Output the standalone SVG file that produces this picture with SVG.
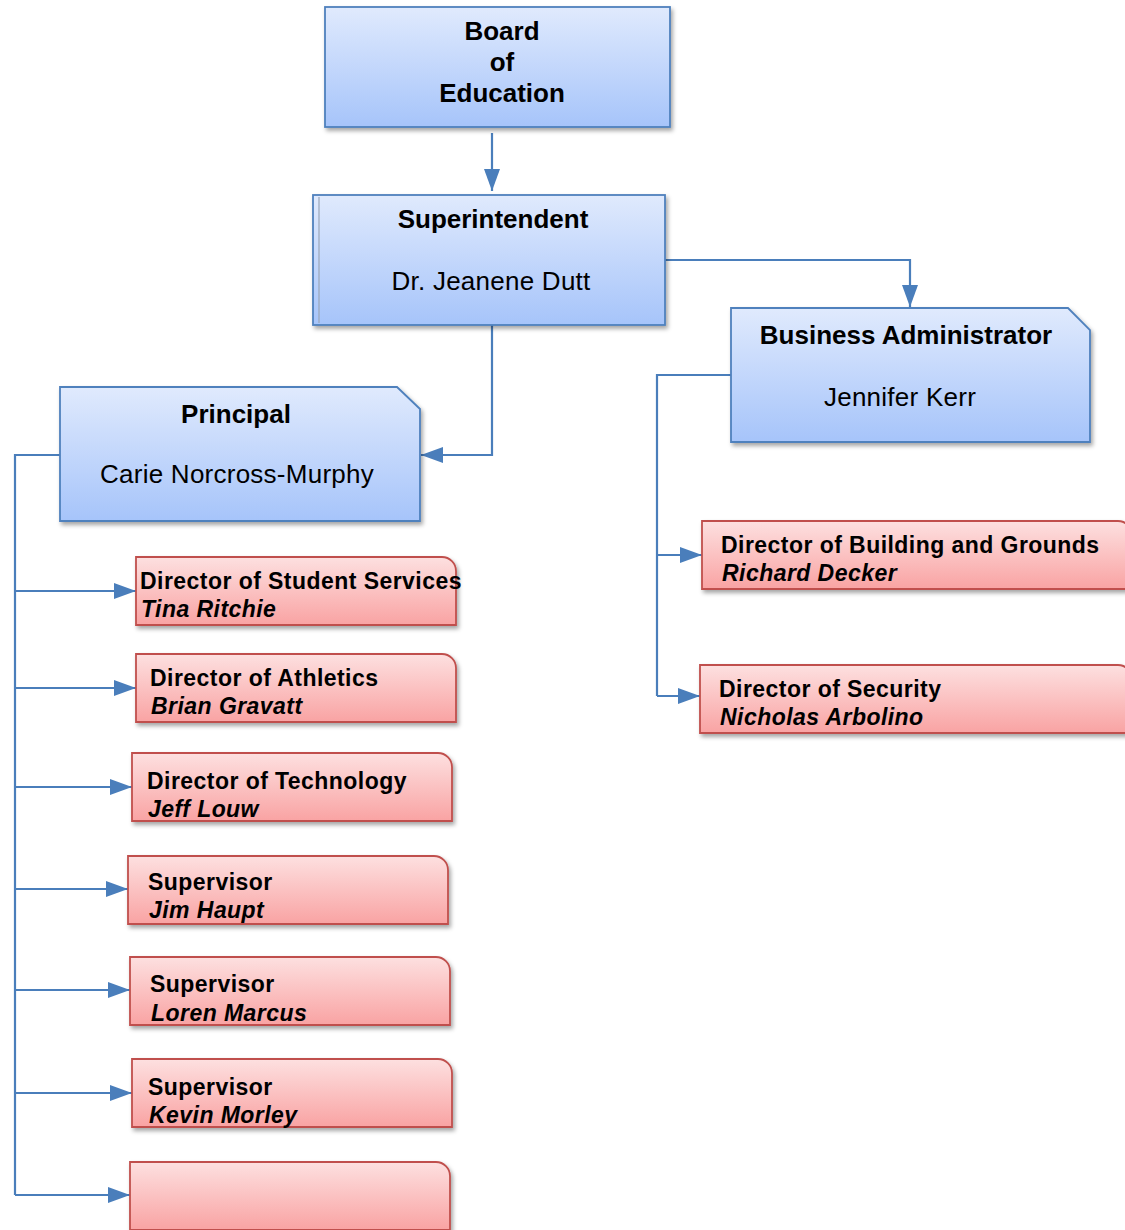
<svg xmlns="http://www.w3.org/2000/svg" width="1125" height="1230" viewBox="0 0 1125 1230">
<defs>
<linearGradient id="gb" x1="0" y1="0" x2="0" y2="1">
<stop offset="0" stop-color="#e0eafd"/>
<stop offset="1" stop-color="#a6c4fa"/>
</linearGradient>
<linearGradient id="gr" x1="0" y1="0" x2="0" y2="1">
<stop offset="0" stop-color="#fde0e0"/>
<stop offset="1" stop-color="#f9a3a3"/>
</linearGradient>
<filter id="sh" x="-10%" y="-10%" width="125%" height="130%">
<feDropShadow dx="2" dy="3" stdDeviation="2" flood-color="#000" flood-opacity="0.35"/>
</filter>
<marker id="ah" markerUnits="userSpaceOnUse" markerWidth="24" markerHeight="16" refX="22" refY="8" orient="auto">
<path d="M0,0 L22,8 L0,16 Z" fill="#4a7ebb"/>
</marker>
</defs>
<style>
.blue{fill:url(#gb);stroke:#4f81bd;stroke-width:1.8;filter:url(#sh)}
.red{fill:url(#gr);stroke:#c0504d;stroke-width:1.8;filter:url(#sh)}
.c{fill:none;stroke:#4a7ebb;stroke-width:2.2}
.ca{fill:none;stroke:#4a7ebb;stroke-width:2.2;marker-end:url(#ah)}
text{font-family:"Liberation Sans",Arial,sans-serif;fill:#000}
.bt{font-size:26px;font-weight:bold;text-anchor:middle}
.bn{font-size:26px;text-anchor:middle;letter-spacing:0.25px}
.rt{font-size:23px;font-weight:bold;letter-spacing:0.45px}
.rn{font-size:23px;font-weight:bold;font-style:italic;letter-spacing:0.45px}
</style>

<g id="connectors">
<path class="ca" d="M492,133 V191"/>
<path class="ca" d="M665,260 H910 V307"/>
<path class="ca" d="M492,325 V455 H421"/>
<path class="c" d="M60,455 H15 V1195"/>
<path class="ca" d="M15,591 H136"/>
<path class="ca" d="M15,688 H136"/>
<path class="ca" d="M15,787 H132"/>
<path class="ca" d="M15,889 H128"/>
<path class="ca" d="M15,990 H130"/>
<path class="ca" d="M15,1093 H132"/>
<path class="ca" d="M15,1195 H130"/>
<path class="c" d="M731,375 H657 V696"/>
<path class="ca" d="M657,555 H702"/>
<path class="ca" d="M657,696 H700"/>
</g>

<g id="board">
<rect class="blue" x="325" y="7" width="345" height="120"/>
<text class="bt" x="502" y="40">Board</text>
<text class="bt" x="502" y="71">of</text>
<text class="bt" x="502" y="102">Education</text>
</g>

<g id="superintendent">
<rect class="blue" x="313" y="195" width="352" height="130"/>
<line x1="319" y1="197" x2="319" y2="323" stroke="#9aa6b8" stroke-width="1.2"/>
<text class="bt" x="493" y="228">Superintendent</text>
<text class="bn" x="491" y="290">Dr. Jeanene Dutt</text>
</g>

<g id="business-administrator">
<path class="blue" d="M731,308 H1068 L1090,330 V442 H731 Z"/>
<text class="bt" x="906" y="344">Business Administrator</text>
<text class="bn" x="900" y="406">Jennifer Kerr</text>
</g>

<g id="principal">
<path class="blue" d="M60,387 H397 L420,409 V521 H60 Z"/>
<text class="bt" x="236" y="423">Principal</text>
<text class="bn" x="237" y="483">Carie Norcross-Murphy</text>
</g>

<g id="student-services">
<path class="red" d="M136,557 H442 A14,14 0 0 1 456,571 V625 H136 Z"/>
<text class="rt" x="140" y="589">Director of Student Services</text>
<text class="rn" x="141" y="617">Tina Ritchie</text>
</g>

<g id="athletics">
<path class="red" d="M136,654 H442 A14,14 0 0 1 456,668 V722 H136 Z"/>
<text class="rt" x="150" y="686">Director of Athletics</text>
<text class="rn" x="151" y="714">Brian Gravatt</text>
</g>

<g id="technology">
<path class="red" d="M132,753 H438 A14,14 0 0 1 452,767 V821 H132 Z"/>
<text class="rt" x="147" y="789">Director of Technology</text>
<text class="rn" x="148" y="817">Jeff Louw</text>
</g>

<g id="supervisor-haupt">
<path class="red" d="M128,856 H434 A14,14 0 0 1 448,870 V924 H128 Z"/>
<text class="rt" x="148" y="890">Supervisor</text>
<text class="rn" x="149" y="918">Jim Haupt</text>
</g>

<g id="supervisor-marcus">
<path class="red" d="M130,957 H436 A14,14 0 0 1 450,971 V1025 H130 Z"/>
<text class="rt" x="150" y="992">Supervisor</text>
<text class="rn" x="151" y="1021">Loren Marcus</text>
</g>

<g id="supervisor-morley">
<path class="red" d="M132,1059 H438 A14,14 0 0 1 452,1073 V1127 H132 Z"/>
<text class="rt" x="148" y="1095">Supervisor</text>
<text class="rn" x="149" y="1123">Kevin Morley</text>
</g>

<g id="empty">
<path class="red" d="M130,1162 H436 A14,14 0 0 1 450,1176 V1230 H130 Z"/>
</g>

<g id="building-grounds">
<path class="red" d="M702,521 H1118 A14,14 0 0 1 1132,535 V589 H702 Z"/>
<text class="rt" x="721" y="553">Director of Building and Grounds</text>
<text class="rn" x="722" y="581">Richard Decker</text>
</g>

<g id="security">
<path class="red" d="M700,665 H1118 A14,14 0 0 1 1132,679 V733 H700 Z"/>
<text class="rt" x="719" y="697">Director of Security</text>
<text class="rn" x="720" y="725">Nicholas Arbolino</text>
</g>
</svg>
